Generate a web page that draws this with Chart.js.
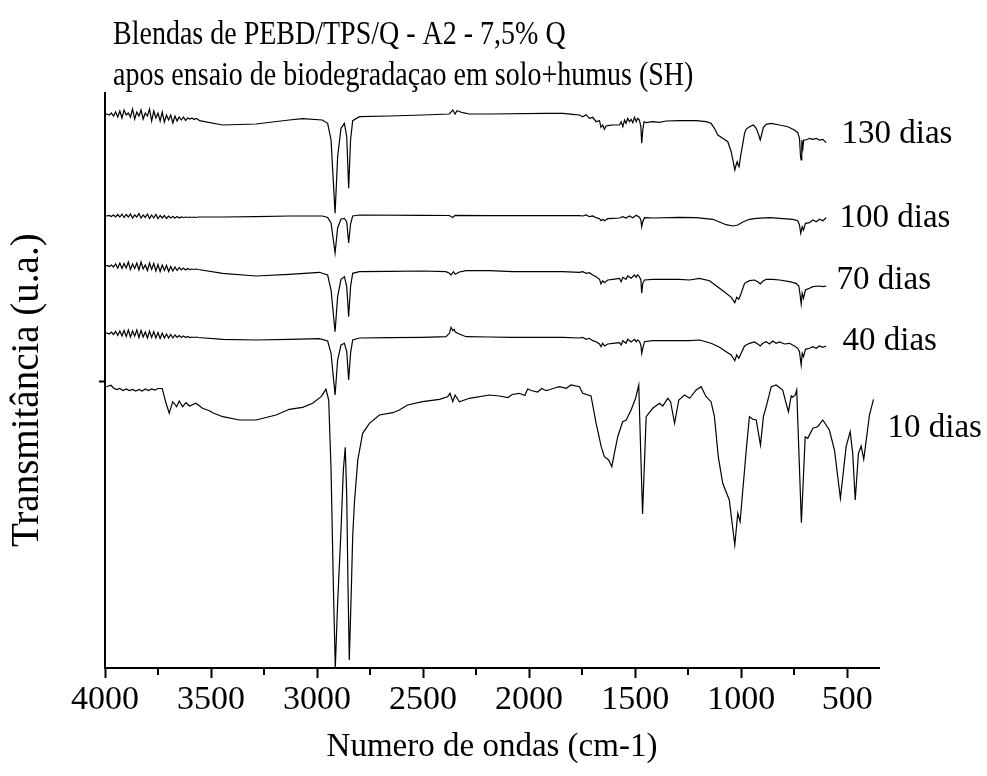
<!DOCTYPE html>
<html><head><meta charset="utf-8">
<script src="https://cdn.jsdelivr.net/npm/chart.js@4.4.1/dist/chart.umd.min.js"></script>
<style>html,body{margin:0;padding:0;background:#fff}#wrap{width:987px;height:776px}</style>
</head><body><div id="wrap"><canvas id="c" width="987" height="776"></canvas></div>
<script>
const TITLE_LINES = ['Blendas de PEBD/TPS/Q - A2 - 7,5% Q', 'apos ensaio de biodegradaçao em solo+humus (SH)'];
const X_TITLE = 'Numero de ondas (cm-1)';
const Y_TITLE = 'Transmitância (u.a.)  ';
const X_TICKS = [4000, 3500, 3000, 2500, 2000, 1500, 1000, 500];
const X_MINOR = [3750, 3250, 2750, 2250, 1750, 1250, 750];
const Y_TICKS = [287];
const SERIES_NAMES = ['130 dias', '100 dias', '70 dias', '40 dias', '10 dias'];

const WN_NOISE = [3998,3990,3980,3970,3960,3950,3940,3930,3920,3910,3900,3890,3880,3870,3860,3850,3840,3830,3820,3810,3800,3790,3780,3770,3760,3750,3740,3730,3720,3710,3700,3690,3680,3670,3660,3650,3640,3630,3620,3610,3600,3590,3580,3570,3560];

// 130 dias
const WN_130 = WN_NOISE.concat([3555,3445,3288,3131,3069,2975,2950,2934,2915,2903,2887,2871,2860,2851,2842,2832,2800,2659,2502,2376,2360,2349,2340,2313,2282,2187,1920,1841,1794,1763,1747,1731,1716,1700,1684,1668,1661,1653,1645,1637,1621,1605,1574,1566,1558,1550,1543,1535,1527,1519,1511,1503,1495,1488,1480,1473,1469,1464,1458,1448,1417,1385,1354,1291,1212,1165,1142,1126,1110,1087,1063,1047,1036,1030,1024,1019,1014,1010,1003,992,984,977,961,942,929,917,910,904,895,882,859,819,780,749,733,725,720,717,714,709,705,694,678,662,646,631,615,599]);
const T_130 = [553.7,554,553,555,552,556,551,557,550,558,553,555,551,559,549,556,552,558,549,555,552,559,547,557,550,555,547,556,546,553,548,553,545,552,547,551,548,551,547.5,550,549,550,548.5,549.5,548.5,
547.3,543,544,548,549.3,548,544.7,528,454.7,511.3,539.7,544.7,531.3,479.7,528,547.3,551.3,552,553,554,558,554,557.3,555.3,554,554,554.7,554.7,553.7,553,551.3,553.3,549.7,550.7,546.3,547.3,540.7,543,538.7,542,542.7,543,543,546.3,541.3,548,544.7,549.7,546.3,548.7,545.3,550.7,546.3,549.7,548,541.3,524.7,538,546.3,545.3,546.3,545.7,547,547.3,547.3,546.3,544.7,539.7,533,529.7,526.3,516.3,504.7,498,503,506.3,503,501.3,511.3,524.7,534.7,538.7,541.3,543,539.7,533,528,533,540.7,543.7,544.7,543,541.3,538,535.3,529.7,511.3,508,528,519.7,528,528,529.7,528.7,529.7,528,528.7,525.3];

// 100 dias
const WN_100 = WN_NOISE.concat([3555,3445,3288,3131,2975,2950,2934,2915,2903,2887,2871,2860,2851,2842,2832,2800,2502,2376,2360,2349,2187,1920,1763,1747,1731,1716,1700,1684,1668,1661,1653,1645,1629,1605,1574,1558,1543,1527,1511,1495,1480,1473,1469,1464,1456,1417,1291,1212,1134,1102,1071,1039,1016,992,961,929,866,819,756,733,725,719,712,706,697,678,662,646,631,615,599]);
const T_100 = [452.3,452,452.5,451.5,453,451,453.5,451,454,450.5,453.5,451,454,450,453,451,454.5,450,453,450.5,454,449.5,453,450,453.5,449.5,452.5,450,452.5,449.5,452,450,451.5,450,451.5,450,451,450.5,451,450.5,451,450.5,451,450.5,451,
451,451,451.3,452,452,450.5,445,415,440,449,449.7,446,425,444,452,453,452.7,452.5,450.5,452.7,452.3,452.3,452.3,452,453,451.3,452,450.3,449.3,447.3,448.7,447.3,449.3,449.7,450,451.3,450,452,450.3,452.7,450.7,448,441.3,446.3,450.3,450,450.7,450.3,448.7,446,443.3,442,443,446,448.7,449.7,450.3,449.7,448.7,447.3,443,434.7,441.3,438,444.7,445.3,448,446.3,448.7,447.3,450.3];

// 70 dias
const WN_70 = WN_NOISE.concat([3445,3288,3131,2989,2950,2934,2915,2903,2887,2871,2860,2851,2842,2832,2800,2659,2502,2392,2376,2368,2357,2348,2329,2297,2187,2077,1841,1763,1747,1731,1716,1700,1684,1668,1661,1653,1645,1629,1605,1574,1566,1558,1543,1535,1519,1503,1495,1488,1480,1473,1469,1464,1456,1417,1291,1244,1197,1149,1134,1102,1071,1047,1030,1021,1011,1000,984,961,937,922,910,898,882,851,819,772,741,728,722,717,712,706,697,678,662,631,615,599]);
const T_70 = [402,402.5,401.5,403,401,404,400,405,399.5,404.5,400,406,398.5,404,399.5,405,398,406,399,403,397.5,405,398.5,404.5,397,403.5,396.5,403,397.5,402.5,396.5,401.5,397,401,397.5,400.5,398,400,398,399.5,398.5,399,398.5,399,398.5,
394.7,392,393.7,395.7,393,378,336.3,371.3,388.7,391.3,381.3,351.3,381.3,394.7,396.3,396.7,397,396.3,394.7,393,396.3,393.7,396,397.3,397.3,396.3,396.3,395.7,396.3,394.7,395.3,393,391.3,388.7,384,387.3,385.3,388,388.7,389.7,386.3,390.7,388.7,392,389.7,393,390.7,393.3,391.3,388,374.7,384.7,388,388.7,388.7,388,389.7,387.3,384.7,379.7,374.7,370.7,365.3,370.7,368.7,374.7,384.7,387.3,388,386.3,384,386.7,388.7,388.7,388,386.3,384.7,382,373,364,374.7,369.7,378,379.7,381.3,382,381.3,382];

// 40 dias
const WN_40 = WN_NOISE.concat([3445,3288,3131,2989,2950,2934,2915,2903,2887,2871,2860,2851,2842,2832,2800,2659,2502,2392,2376,2368,2360,2354,2348,2329,2297,2187,2077,1841,1763,1747,1731,1716,1700,1684,1668,1661,1653,1645,1629,1605,1574,1566,1558,1543,1535,1519,1503,1495,1488,1480,1473,1469,1464,1456,1417,1291,1244,1197,1149,1134,1102,1071,1047,1030,1021,1011,1000,984,961,937,922,910,898,882,866,851,835,819,796,772,749,733,725,717,712,706,697,678,662,646,631,615,599]);
const T_40 = [334.7,335,334,336,333.5,336.5,332.5,337,332,337.5,331.5,338,331,337,332,338,330.5,337.5,331,336,330,337,330.5,336.5,330,335.5,329.5,335,330,334,330,333.5,330,333,330.5,332.5,330.5,332,330.5,331.5,330.5,331,330.5,331,330.5,
328.7,328,328.7,329.3,327,314.7,273,308,323,324.7,316.3,288,314.7,328,330,330.3,330.7,331.3,334.7,340.7,337.3,338.7,336,334,331.3,331,330.7,330.7,330,330.7,328.7,329.7,327.3,326.3,324,321.3,324.7,322,324,324.7,325.3,323,327.3,324.7,328.7,326,328.7,326.3,328,326.7,323,314.7,319.7,326.3,327.3,327.3,327.3,328,325.3,324,320.7,316.3,313,307.3,313,309.7,314.7,322,324.7,326,324,322,324.7,326.3,324,327,324.7,326,324,324.7,322,319.7,316.3,303,314.7,311.3,318.7,319.7,321.3,319.7,322,320.7,322];

// 10 dias
const WN_10 = [3994,3972,3960,3945,3930,3915,3900,3885,3870,3855,3840,3825,3810,3795,3780,3765,3750,3730,3712,3697,3681,3662,3650,3634,3618,3602,3571,3540,3508,3492,3445,3366,3288,3193,3131,3068,3021,2981,2958,2945,2934,2923,2914,2903,2887,2876,2867,2860,2854,2848,2838,2832,2824,2808,2785,2753,2706,2643,2612,2573,2502,2423,2384,2373,2360,2349,2329,2282,2187,2140,2100,2080,2046,2020,2007,1990,1960,1940,1920,1900,1880,1857,1825,1802,1763,1747,1708,1684,1660,1645,1625,1610,1598,1582,1559,1542,1519,1498,1483,1465,1448,1417,1385,1370,1346,1333,1314,1294,1267,1243,1212,1189,1165,1142,1126,1108,1087,1056,1030,1016,1005,976,961,945,929,909,895,882,858,835,804,788,777,764,757,745,738,716,698,686,662,639,615,584,560,532,505,486,474,462,447,434,422,408,395,376];
const T_10 = [281.3,282.7,280,278.5,279.5,277.5,279,277.5,278.5,277,278.5,277,279,277.5,279,278,279.5,279.5,264.7,254.7,266.3,261.3,267,261.3,265.3,262,264.7,259.7,257.3,255.3,251.3,248,248,253,258.7,260.7,264.7,271.3,278.7,268,198,81.3,0,64.7,138,198,220.7,171.3,81.3,8,81.3,131.3,164.7,208,234.7,244.7,253,255.3,258,263,266.3,268.7,271.3,274.7,266.3,273,266.3,269.7,273,272,270.5,273.5,274.7,272.5,279,277.5,276,279.5,277.3,278.5,280,281.3,279.7,283,281.3,274.7,272,244.7,221.3,211.3,208,201.3,214.7,231.3,246.3,248,258,269.7,283,154,251.3,259.7,264.7,262,269.7,266.3,244.7,268,273,269.7,278,281.3,271.3,266.3,251.3,211.3,184.7,168,123,154.7,146.3,218,251.3,248.7,248,223,251.3,261.3,281.3,283,278,264.7,256.3,272,270.7,273,278,145.3,231.3,229.7,239.7,241.3,248,238,218,169.7,221.3,236.3,214.7,168,214.7,222,208.7,231.3,253,268.7];

const SERIES_WN = [WN_130, WN_100, WN_70, WN_40, WN_10];
const SERIES_T = [T_130, T_100, T_70, T_40, T_10];

const FONT = '"Liberation Serif", "Times New Roman", serif';

const datasets = SERIES_NAMES.map((name, i) => ({
  label: name,
  data: SERIES_WN[i].map((w, k) => ({x: w, y: SERIES_T[i][k]})),
  borderColor: '#000',
  borderWidth: 1.2,
  pointRadius: 0,
  fill: false,
  tension: 0
}));

const annotPlugin = {
  id: 'annot',
  afterDraw(chart, args, opts) {
    const {ctx, scales: {x, y}, chartArea} = chart;
    ctx.save();
    ctx.strokeStyle = '#000';
    ctx.lineWidth = 2;
    const yb = chartArea.bottom;
    X_MINOR.forEach(v => {
      const px = Math.round(x.getPixelForValue(v));
      ctx.beginPath(); ctx.moveTo(px, yb); ctx.lineTo(px, yb + 7); ctx.stroke();
    });
    ctx.fillStyle = '#000';
    ctx.textAlign = 'left';
    ctx.textBaseline = 'middle';
    ctx.font = opts.labelSize + 'px ' + FONT;
    opts.labelPos.forEach((p, i) => {
      ctx.fillText(SERIES_NAMES[i], x.getPixelForValue(p[0]), y.getPixelForValue(p[1]));
    });
    ctx.textBaseline = 'alphabetic';
    ctx.font = opts.titleSize + 'px ' + FONT;
    TITLE_LINES.forEach((t, i) => {
      ctx.save();
      ctx.translate(opts.titleX, opts.titleY + i * opts.titleGap);
      ctx.scale(1, opts.titleStretch);
      ctx.fillText(t, 0, 0);
      ctx.restore();
    });
    ctx.restore();
  }
};

new Chart(document.getElementById('c'), {
  type: 'line',
  data: {datasets},
  plugins: [annotPlugin],
  options: {
    responsive: false,
    devicePixelRatio: 1,
    animation: false,
    layout: {padding: {top: 93, right: 108, bottom: 0, left: 0}},
    plugins: {
      legend: {display: false},
      tooltip: {enabled: false},
      annot: {
        labelSize: 33,
        labelPos: [[527, 534], [536, 450], [550, 388], [522, 327], [310, 240]],
        titleSize: 28,
        titleStretch: 1.2,
        titleX: 113,
        titleY: 44,
        titleGap: 41
      }
    },
    scales: {
      x: {
        type: 'linear',
        reverse: true,
        min: 350,
        max: 4000,
        afterBuildTicks: s => { s.ticks = X_TICKS.map(v => ({value: v})); },
        afterFit: s => { s.height = 108; },
        grid: {display: true, drawOnChartArea: false, drawTicks: true, tickLength: 10, color: '#000', tickWidth: 2},
        border: {display: true, color: '#000', width: 2},
        ticks: {color: '#000', font: {family: FONT, size: 34}, padding: 2, maxRotation: 0, autoSkip: false, callback: v => String(v)},
        title: {display: true, text: X_TITLE, color: '#000', font: {family: FONT, size: 33}, padding: {top: 0, bottom: 9}}
      },
      y: {
        type: 'linear',
        min: 0,
        max: 575,
        afterBuildTicks: s => { s.ticks = Y_TICKS.map(v => ({value: v})); },
        afterFit: s => { s.width = 105; },
        grid: {display: true, drawOnChartArea: false, drawTicks: true, tickLength: 6, color: '#000', tickWidth: 2},
        border: {display: true, color: '#000', width: 2},
        ticks: {display: false},
        title: {display: true, text: Y_TITLE, color: '#000', font: {family: FONT, size: 39}, padding: {top: 4, bottom: 0}}
      }
    }
  }
});
</script>
</body></html>
